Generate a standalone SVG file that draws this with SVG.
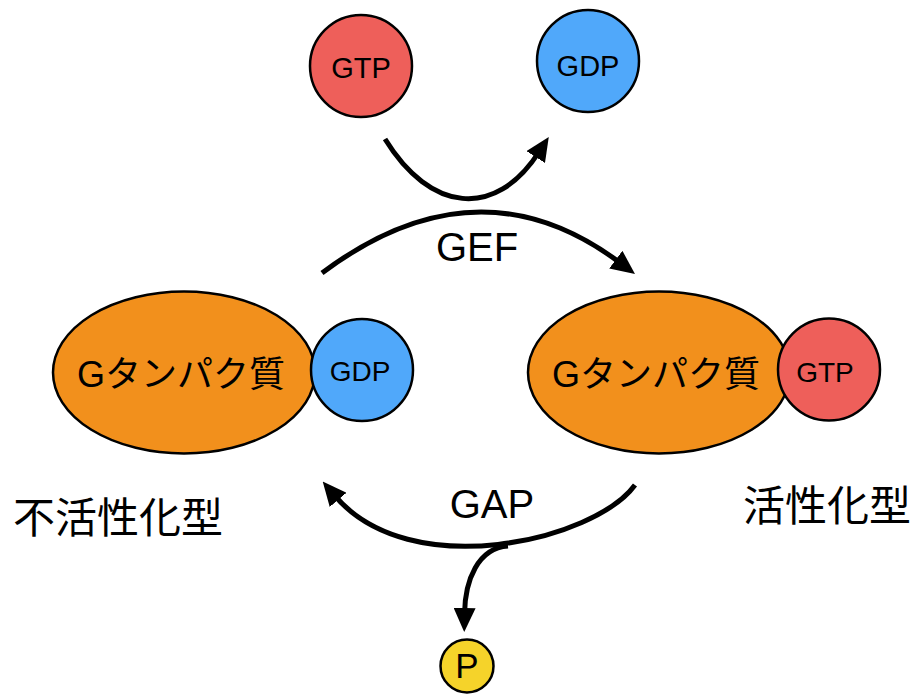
<svg xmlns="http://www.w3.org/2000/svg" width="916" height="694" viewBox="0 0 916 694">
<defs>
<style>
.lbl{font-family:"Liberation Sans","Noto Sans CJK JP",sans-serif;fill:#000;text-anchor:middle}
.jp{font-family:"Noto Sans CJK JP","Liberation Sans",sans-serif;fill:#000}
.shape{stroke:#000;stroke-width:2.5}
.gtp{fill:#EE5F5A}
.gdp{fill:#50A8FA}
.prot{fill:#F2901C}
.pi{fill:#F5D32A}
.conn{fill:none;stroke:#000;stroke-width:5}
</style>
<marker id="ah" markerUnits="userSpaceOnUse" markerWidth="24" markerHeight="22" viewBox="0 0 24 22" refX="6" refY="11" orient="auto">
<path d="M0,0 L24,11 L0,22 z" fill="#000"/>
</marker>
</defs>
<g id="connectors">
<path class="conn" d="M385,139 C430,212 495,220 539,152" marker-end="url(#ah)"/>
<path class="conn" d="M322,273 Q478,156 620.6,263.2" marker-end="url(#ah)"/>
<path class="conn" d="M635,485 C595,540 410,585 334.3,495.2" marker-end="url(#ah)"/>
<path class="conn" d="M508,546 C478,548 465,580 464.5,614" marker-end="url(#ah)"/>
</g>
<g id="gtp-top">
<circle class="shape gtp" cx="361" cy="66" r="51"/>
<text class="lbl" x="361" y="78" font-size="29">GTP</text>
</g>
<g id="gdp-top">
<circle class="shape gdp" cx="588" cy="61" r="51"/>
<text class="lbl" x="588" y="76" font-size="29">GDP</text>
</g>
<g id="label-gef">
<text class="lbl" x="477" y="261" font-size="40">GEF</text>
</g>
<g id="inactive">
<ellipse class="shape prot" cx="184" cy="372.5" rx="131" ry="81"/>
<text class="lbl" x="181" y="387" font-size="36"><tspan>G</tspan><tspan class="jp">タンパク質</tspan></text>
<circle class="shape gdp" cx="362" cy="370" r="51"/>
<text class="lbl" x="360" y="381" font-size="28">GDP</text>
</g>
<g id="active">
<ellipse class="shape prot" cx="659" cy="372.5" rx="131" ry="81"/>
<text class="lbl" x="656" y="387" font-size="36"><tspan>G</tspan><tspan class="jp">タンパク質</tspan></text>
<circle class="shape gtp" cx="829" cy="369.5" r="51"/>
<text class="lbl" x="825" y="382" font-size="28">GTP</text>
</g>
<g id="label-gap">
<text class="lbl" x="492" y="518" font-size="40">GAP</text>
</g>
<g id="label-inactive">
<text class="jp" x="13" y="533" font-size="42">不活性化型</text>
</g>
<g id="label-active">
<text class="jp" x="743" y="521" font-size="42">活性化型</text>
</g>
<g id="phosphate">
<circle class="shape pi" cx="467" cy="666" r="26.5"/>
<text class="lbl" x="467" y="678" font-size="35">P</text>
</g>
</svg>
